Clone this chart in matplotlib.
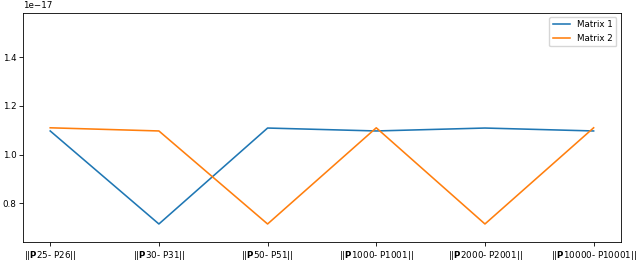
import matplotlib
matplotlib.use("Agg")
import matplotlib.pyplot as plt

categories = [r"||$\mathbf{P}$25- P26||", r"||$\mathbf{P}$30- P31||", r"||$\mathbf{P}$50- P51||",
              r"||$\mathbf{P}$1000- P1001||", r"||$\mathbf{P}$2000- P2001||", r"||$\mathbf{P}$10000- P10001||"]
matrix1 = [1.097e-17, 0.715e-17, 1.109e-17, 1.097e-17, 1.109e-17, 1.097e-17]
matrix2 = [1.110e-17, 1.097e-17, 0.715e-17, 1.110e-17, 0.715e-17, 1.110e-17]

fig = plt.figure(figsize=(6.4, 2.63), dpi=100)
ax = fig.add_axes([0.036, 0.078, 0.934, 0.874])
x = list(range(len(categories)))
ax.plot(x, matrix1, color="#1f77b4", lw=1.15, label="Matrix 1")
ax.plot(x, matrix2, color="#ff7f0e", lw=1.15, label="Matrix 2")
ax.set_xticks(x)
ax.set_xticklabels(categories)
ax.set_ylim(0.639e-17, 1.583e-17)
ax.set_yticks([0.8e-17, 1.0e-17, 1.2e-17, 1.4e-17])
ax.tick_params(axis="both", labelsize=6.3, length=2.6, width=0.6, pad=2.2)
for s in ax.spines.values():
    s.set_linewidth(0.6)
ax.yaxis.get_offset_text().set_fontsize(6.3)
ax.legend(loc="upper right", fontsize=6.3, handlelength=2.0)
fig.savefig("out.png", dpi=100)
